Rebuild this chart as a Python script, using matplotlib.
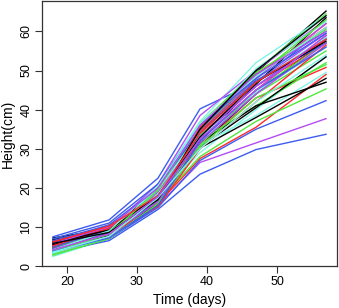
import matplotlib
matplotlib.use("Agg")
import matplotlib.pyplot as plt

plt.rcParams['font.family'] = ['Liberation Sans', 'DejaVu Sans']

# sampling days
days = [18, 26, 33, 39, 47, 57]

# heights (cm) of each plant at each day, plants in matplot order (col = 1:6 cycling)
h18 = [7.2, 6.5, 3.0, 7.5, 2.5, 5.5,
       6.3, 5.5, 2.7, 3.5, 3.0, 3.2,
       5.5, 5.0, 3.5, 4.0, 3.5, 4.5,
       6.8, 6.0, 4.0, 6.5, 4.0, 5.0,
       5.0, 4.8, 3.2, 5.0, 3.3, 4.0,
       4.5, 5.2, 4.5, 4.5, 2.8, 3.8,
       6.0, 4.2, 3.8, 7.0, 4.2, 5.8,
       5.8, 6.2, 2.9, 3.8, 3.6, 4.2]
h26 = [9.5, 10.0, 7.5, 11.8, 7.0, 9.5,
       8.8, 9.5, 7.2, 6.5, 7.5, 7.0,
       8.5, 9.0, 8.0, 7.0, 8.0, 8.5,
       9.0, 10.5, 8.3, 10.5, 8.5, 9.0,
       8.0, 8.8, 7.8, 9.0, 7.8, 8.0,
       7.8, 9.8, 8.8, 8.5, 7.3, 7.5,
       9.2, 8.2, 8.1, 11.0, 9.0, 10.0,
       8.6, 10.2, 7.0, 7.2, 7.6, 8.2]
h33 = [19.5, 16.5, 17.5, 22.5, 21.0, 21.0,
       18.5, 16.0, 16.5, 14.5, 18.0, 15.5,
       17.5, 15.5, 18.5, 15.0, 20.0, 18.5,
       19.0, 17.0, 19.0, 20.0, 17.0, 19.0,
       16.5, 15.8, 17.0, 17.5, 19.5, 17.5,
       16.0, 16.2, 18.0, 16.5, 18.5, 16.5,
       18.0, 15.2, 19.5, 21.0, 20.5, 20.0,
       17.0, 18.0, 16.0, 15.5, 17.5, 17.8]
h39 = [34.0, 34.5, 36.0, 40.2, 37.0, 38.5,
       32.0, 27.5, 28.0, 23.5, 29.0, 26.5,
       31.0, 31.0, 32.0, 27.0, 35.5, 35.0,
       30.5, 33.5, 35.0, 35.0, 31.0, 34.0,
       30.2, 32.5, 33.5, 33.0, 34.0, 33.0,
       31.5, 35.5, 31.0, 34.0, 33.0, 31.5,
       33.0, 30.0, 36.5, 36.0, 36.5, 36.0,
       35.0, 34.0, 30.5, 32.0, 30.0, 32.5]
h47 = [49.5, 48.0, 50.0, 47.0, 52.0, 50.0,
       46.5, 35.5, 37.0, 29.8, 40.0, 31.5,
       44.0, 43.0, 41.0, 35.0, 50.5, 48.0,
       40.5, 46.0, 48.5, 49.0, 38.5, 47.0,
       38.0, 45.0, 44.0, 46.0, 47.0, 46.0,
       41.0, 49.0, 45.0, 47.5, 44.5, 44.0,
       47.0, 42.0, 49.5, 48.0, 48.5, 49.0,
       50.0, 47.0, 43.0, 45.0, 42.0, 45.0]
h57 = [65.2, 62.0, 64.5, 61.0, 64.0, 63.0,
       63.5, 49.0, 45.3, 33.7, 53.5, 37.7,
       58.0, 50.8, 52.0, 42.3, 62.5, 62.0,
       53.5, 57.0, 63.0, 60.0, 49.5, 59.5,
       48.0, 59.0, 55.0, 58.5, 58.5, 58.0,
       47.0, 61.0, 57.0, 57.0, 56.0, 57.0,
       57.5, 56.5, 60.5, 59.5, 61.0, 60.0,
       64.0, 58.0, 51.5, 56.0, 54.0, 59.0]

palette = ['black', '#ff2a2a', '#4ee83c', '#3c5cf0', '#80f5e6', '#b44cf5']

fig = plt.figure(figsize=(3.39, 3.08), dpi=100)
ax = fig.add_axes([0.124, 0.136, 0.870, 0.861])

for i in range(len(h18)):
    ys = [h18[i], h26[i], h33[i], h39[i], h47[i], h57[i]]
    ax.plot(days, ys, color=palette[i % 6], lw=1.0, solid_joinstyle='miter')

ax.set_xlim(16.44, 58.56)
ax.set_ylim(0, 67.8)
ax.set_xticks([20, 30, 40, 50])
ax.set_yticks([0, 10, 20, 30, 40, 50, 60])
ax.tick_params(direction='out', length=5, width=0.8, colors='#333333',
               labelcolor='black', labelsize=9, pad=2)
for lab in ax.get_yticklabels():
    lab.set_rotation(90)
    lab.set_va('center')
for s in ax.spines.values():
    s.set_color('#333333')
    s.set_linewidth(0.9)

ax.set_xlabel('Time (days)', fontsize=10, labelpad=4)
ax.set_ylabel('Height(cm)', fontsize=10, labelpad=4)

fig.savefig('out.png', dpi=100)
